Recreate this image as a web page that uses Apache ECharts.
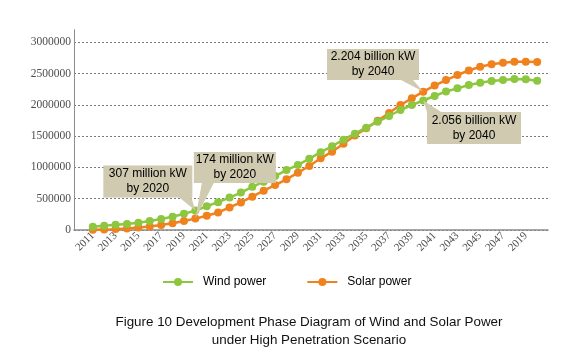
<!DOCTYPE html>
<html>
<head>
<meta charset="utf-8">
<script src="https://cdn.jsdelivr.net/npm/echarts@6/dist/echarts.min.js"></script>
<style>
  html, body { margin: 0; padding: 0; background: #fff; }
  #chart { width: 567px; height: 353px; }
</style>
</head>
<body>
<div id="chart"></div>
<script>
const years = [2011, 2012, 2013, 2014, 2015, 2016, 2017, 2018, 2019, 2020,
  2021, 2022, 2023, 2024, 2025, 2026, 2027, 2028, 2029, 2030,
  2031, 2032, 2033, 2034, 2035, 2036, 2037, 2038, 2039, 2040,
  2041, 2042, 2043, 2044, 2045, 2046, 2047, 2048, 2049, 2050];

const windPower = [53000, 68000, 84000, 97000, 117000, 143000, 175000, 212000, 259000, 310000,
  380000, 445000, 518000, 598000, 690000, 772000, 862000, 958000, 1040000, 1138000,
  1244000, 1338000, 1444000, 1540000, 1635000, 1731000, 1822000, 1918000, 1998000, 2070000,
  2142000, 2215000, 2264000, 2317000, 2355000, 2381000, 2397000, 2412000, 2408000, 2386000];

const solarPower = [3000, 6000, 14000, 25000, 40000, 55000, 80000, 107000, 144000, 182000,
  229000, 280000, 360000, 440000, 532000, 628000, 719000, 810000, 916000, 1023000,
  1146000, 1252000, 1380000, 1510000, 1625000, 1745000, 1870000, 1998000, 2104000, 2211000,
  2308000, 2397000, 2477000, 2550000, 2610000, 2648000, 2674000, 2690000, 2690000, 2685000];

const seriesNames = ["Wind power", "Solar power"];

// labelled years on the x axis (the last one is printed "2019" in the figure)
const labelYears = [2011, 2013, 2015, 2017, 2019, 2021, 2023, 2025, 2027, 2029,
  2031, 2033, 2035, 2037, 2039, 2041, 2043, 2045, 2047, 2049];
const xTickLabels = ["2011", "2013", "2015", "2017", "2019", "2021", "2023", "2025", "2027", "2029",
  "2031", "2033", "2035", "2037", "2039", "2041", "2043", "2045", "2047", "2019"];

const yTicks = [0, 500000, 1000000, 1500000, 2000000, 2500000, 3000000];

const calloutText = [
  "307 million kW\nby 2020",
  "174 million kW\nby 2020",
  "2.204 billion kW\nby 2040",
  "2.056 billion kW\nby 2040",
];

const titleText = "Figure 10 Development Phase Diagram of Wind and Solar Power\nunder High Penetration Scenario";

const green = "#8dc63f";
const orange = "#f0821e";
const boxColor = "#cfcab0";
const serif = "Liberation Serif";
const sans = "Liberation Sans";

const pair = (arr) => years.map((y, i) => [y, arr[i]]);
const idx = (y) => years.indexOf(y);

// callout: box + wedge path, symbol placed so the wedge tip sits on the point
const callout = (text, year, arr, path, size, offset, labelOffset) => ({
  coord: [year, arr[idx(year)]],
  symbol: "path://" + path,
  symbolSize: size,
  symbolOffset: offset,
  label: { formatter: text, offset: labelOffset },
});

const markStyle = {
  silent: true,
  symbolKeepAspect: false,
  itemStyle: { color: boxColor },
  label: {
    show: true,
    position: "inside",
    color: "#000",
    fontFamily: sans,
    fontSize: 12,
    lineHeight: 15,
    align: "center",
  },
};

const chart = echarts.init(document.getElementById("chart"));
chart.setOption({
  animation: false,
  backgroundColor: "#fff",
  title: {
    text: titleText,
    left: 309,
    top: 313,
    padding: 0,
    textAlign: "center",
    textStyle: {
      fontFamily: sans,
      fontSize: 13.4,
      fontWeight: "normal",
      color: "#111",
      lineHeight: 18,
    },
  },
  legend: {
    data: seriesNames,
    left: 162,
    top: 276,
    padding: 0,
    itemWidth: 30,
    itemHeight: 10,
    itemGap: 40,
    textStyle: {
      fontFamily: sans,
      fontSize: 12,
      color: "#000",
      padding: [0, 0, 0, 5],
    },
  },
  grid: { left: 74, right: 19, top: 29.8, bottom: 123, containLabel: false },
  xAxis: {
    type: "value",
    min: 2009.35,
    max: 2050.95,
    axisLine: { show: true, lineStyle: { color: "#8c8c8c", width: 1.5 } },
    axisTick: { show: false },
    splitLine: { show: false },
    axisLabel: {
      customValues: labelYears,
      formatter: (v) => xTickLabels[labelYears.indexOf(v)],
      rotate: 45,
      margin: 4,
      fontFamily: serif,
      fontSize: 11,
      color: "#4d4d4d",
    },
  },
  yAxis: {
    type: "value",
    min: 0,
    max: 3200000,
    axisLine: { show: true, lineStyle: { color: "#8c8c8c", width: 1 } },
    axisTick: { show: false, customValues: yTicks },
    axisLabel: {
      customValues: yTicks,
      formatter: (v) => String(v),
      margin: 3,
      fontFamily: serif,
      fontSize: 11.5,
      color: "#4d4d4d",
    },
    splitLine: {
      show: true,
      lineStyle: { color: "#7a7a7a", type: [2, 2], width: 1 },
    },
  },
  series: [
    {
      name: seriesNames[0],
      type: "line",
      data: pair(windPower),
      symbol: "circle",
      symbolSize: 8,
      color: green,
      lineStyle: { width: 2.5, color: green },
      itemStyle: { color: green },
      z: 3,
      markPoint: {
        ...markStyle,
        data: [
          callout(calloutText[0], 2020, windPower,
            "M0 0 H89 V32 H88 L92 45 L76 32 H0 Z", [92, 45], [-46, -22.5], [-1.5, -6.5]),
          callout(calloutText[3], 2040, windPower,
            "M3.8 11.5 L0 0 L18 11.5 H97.8 V43.5 H3.8 Z", [97.8, 43.5], [48.9, 21.75], [1.9, 5.75]),
        ],
      },
    },
    {
      name: seriesNames[1],
      type: "line",
      data: pair(solarPower),
      symbol: "circle",
      symbolSize: 8,
      color: orange,
      lineStyle: { width: 2.5, color: orange },
      itemStyle: { color: orange },
      z: 2,
      markPoint: {
        ...markStyle,
        data: [
          callout(calloutText[1], 2020, solarPower,
            "M0 0 H82 V31 H20 L1.5 66.6 L8 31 H0 Z", [82, 66.6], [39.5, -33.3], [0, -17.8]),
          callout(calloutText[2], 2040, solarPower,
            "M0 0 H92 V31 H86 L96.2 42.7 L74 31 H0 Z", [96.2, 42.7], [-48.1, -21.35], [-2.1, -5.85]),
        ],
      },
    },
  ],
});
</script>
</body>
</html>
